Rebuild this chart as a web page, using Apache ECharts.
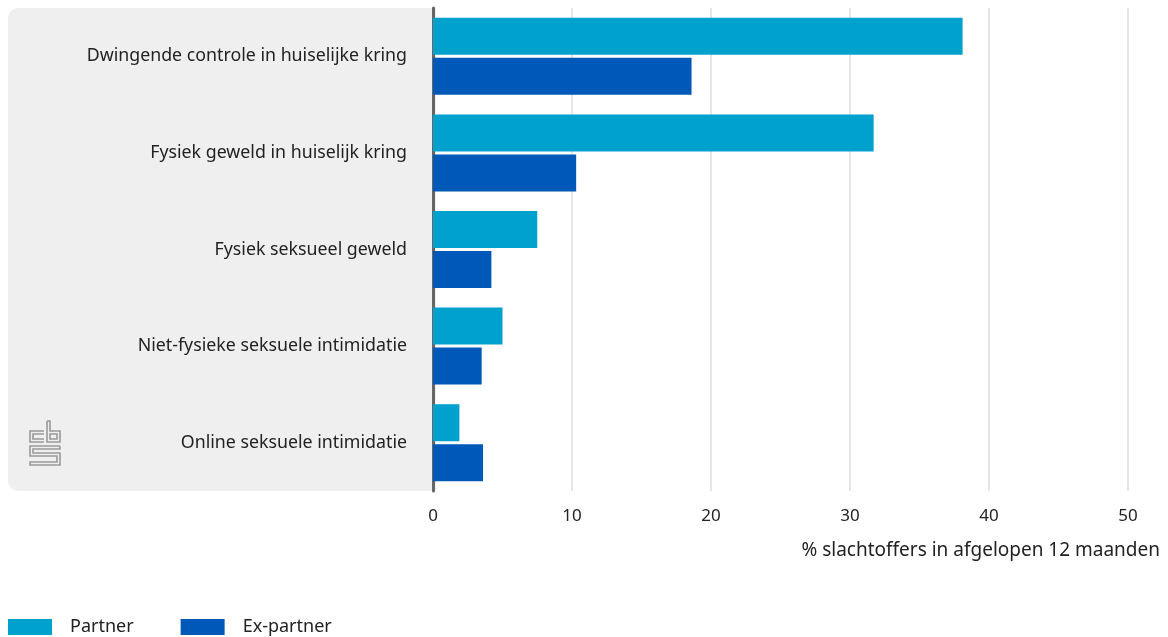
<!DOCTYPE html>
<html>
<head>
<meta charset="utf-8">
<script src="https://cdn.jsdelivr.net/npm/echarts@6/dist/echarts.min.js"></script>
<style>
html,body{margin:0;padding:0;background:#fff;}
#chart{width:1168px;height:637px;}
</style>
</head>
<body>
<div id="chart"></div>
<script>
const categories = [
  'Dwingende controle in huiselijke kring',
  'Fysiek geweld in huiselijk kring',
  'Fysiek seksueel geweld',
  'Niet-fysieke seksuele intimidatie',
  'Online seksuele intimidatie'
];
const partner = [38.1, 31.7, 7.5, 5.0, 1.9];
const exPartner = [18.6, 10.3, 4.2, 3.5, 3.6];
const seriesNames = ['Partner', 'Ex-partner'];
const xTicks = { min: 0, max: 50, interval: 10 };
const axisTitle = '% slachtoffers in afgelopen 12 maanden';

const FONT = 'Noto Sans';
const chart = echarts.init(document.getElementById('chart'));
const logoStroke = { stroke: '#9a9a9a', lineWidth: 1.6, fill: null };
chart.setOption({
  animation: false,
  textStyle: { fontFamily: FONT },
  grid: { left: 433, right: 40, top: 8, bottom: 146, containLabel: false },
  graphic: [
    { type: 'rect', z: -10, shape: { x: 8, y: 8, width: 428, height: 483, r: [10, 0, 0, 10] }, style: { fill: '#efefef' } },
    { type: 'group', z: -5, children: [
      { type: 'polyline', shape: { points: [[44,431],[30,431],[30,442],[44,442]] }, style: logoStroke },
      { type: 'polyline', shape: { points: [[44,434],[33,434],[33,439],[44,439]] }, style: logoStroke },
      { type: 'polyline', shape: { points: [[47,421],[47,442],[60,442],[60,431],[50,431],[50,421],[47,421]] }, style: logoStroke },
      { type: 'rect', shape: { x: 50, y: 434, width: 7, height: 5 }, style: logoStroke },
      { type: 'polyline', shape: { points: [[60,446],[30,446],[30,456],[57,456],[57,462],[30,462],[30,465],[60,465],[60,453],[33,453],[33,449],[60,449],[60,446]] }, style: logoStroke }
    ]}
  ],
  legend: {
    left: 3, bottom: -4,
    itemWidth: 44, itemHeight: 16, itemGap: 47,
    icon: 'rect',
    textStyle: { fontSize: 18, color: '#222', fontFamily: FONT, padding: [0, 0, 0, 13] },
    data: seriesNames
  },
  xAxis: {
    type: 'value', min: xTicks.min, max: xTicks.max, interval: xTicks.interval,
    axisLine: { show: false }, axisTick: { show: false },
    splitLine: { lineStyle: { color: '#dddddd', width: 1.5 } },
    axisLabel: { fontSize: 17, color: '#222', margin: 17 },
    name: axisTitle, nameLocation: 'end', nameGap: 32,
    nameTextStyle: { fontSize: 19, color: '#222', align: 'right', verticalAlign: 'top', padding: [50, 0, 0, 0] }
  },
  yAxis: {
    type: 'category', data: categories, inverse: true,
    axisLine: { lineStyle: { color: '#666666', width: 3 } },
    axisTick: { show: false },
    axisLabel: { fontSize: 17.8, color: '#222', margin: 26 }
  },
  series: [
    { name: seriesNames[0], type: 'bar', data: partner, barWidth: 37, barGap: '8%', itemStyle: { color: '#00a1cd' } },
    { name: seriesNames[1], type: 'bar', data: exPartner, barWidth: 37, barGap: '8%', itemStyle: { color: '#0058b8' } }
  ]
});
</script>
</body>
</html>
